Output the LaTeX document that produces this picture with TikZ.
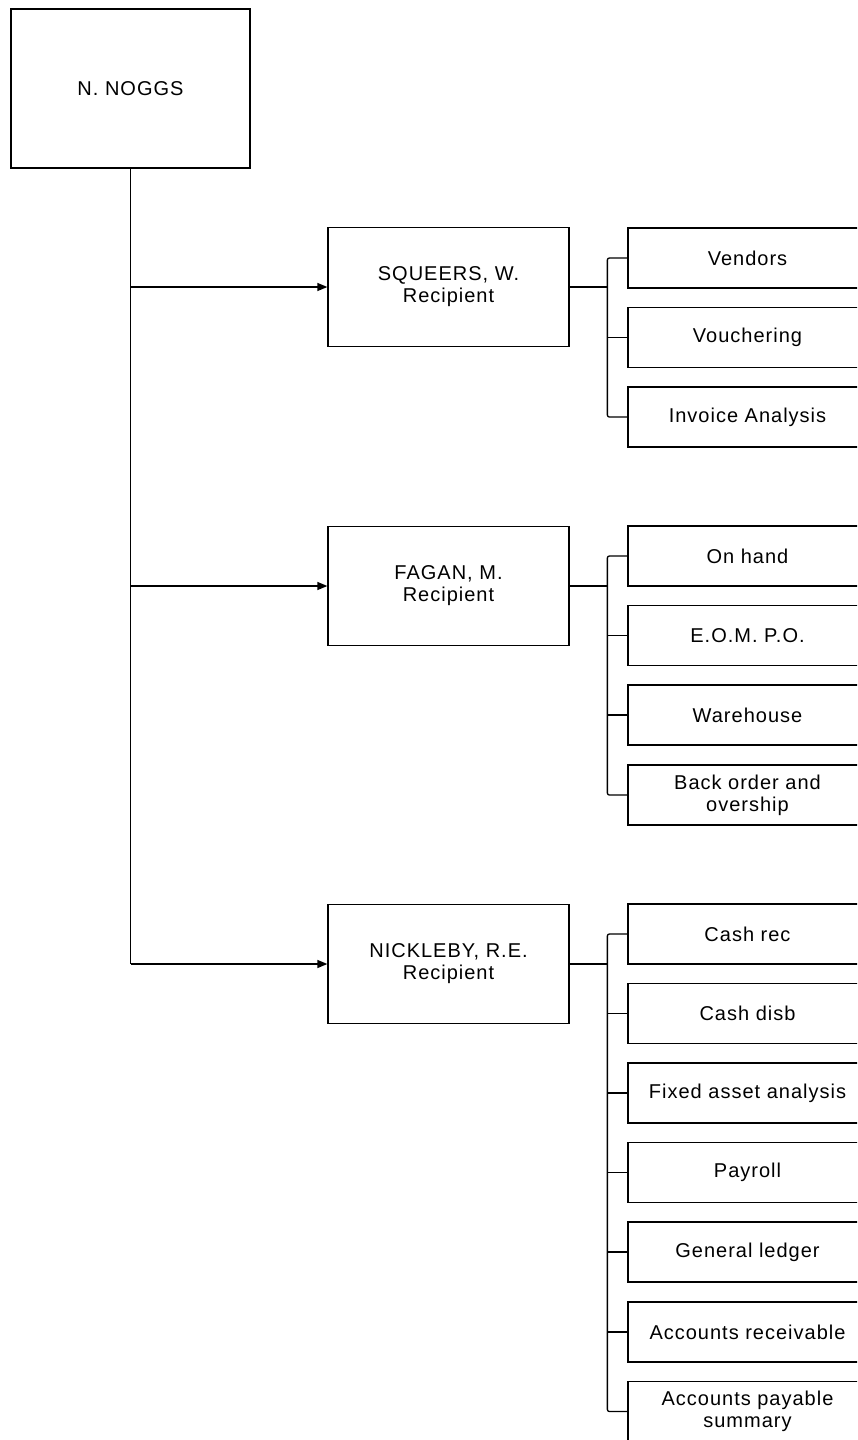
\documentclass[tikz,border=0pt]{standalone}
\usepackage{fontspec}
\setmainfont{Liberation Sans}[LetterSpace=5]
\usetikzlibrary{arrows.meta}
\begin{document}
\begin{tikzpicture}[x=1pt,y=-1pt,
  box/.style={draw,line width=1.3pt,rectangle,inner sep=0pt,align=center,
    font=\fontsize{20}{22}\selectfont},
  topbox/.style={box,minimum width=239pt,minimum height=159pt},
  mgrbox/.style={box,minimum width=241pt,minimum height=119pt},
  leafbox/.style={box,minimum width=239pt,minimum height=60pt},
  link/.style={line width=1.3pt},
  arr/.style={link,-{Triangle[length=10pt,width=8pt]}},
  brk/.style={link,rounded corners=2pt}]
\useasboundingbox (0,0) rectangle (857,1440);
\clip (0,0) rectangle (857,1440);
\fill[white] (0,0) rectangle (857,1440);
% top
\node[topbox] (noggs) at (130.5,88.5) {N. NOGGS};
% managers
\node[mgrbox] (sq) at (448.5,287) {SQUEERS, W.\\Recipient};
\node[mgrbox] (fa) at (448.5,586) {FAGAN, M.\\Recipient};
\node[mgrbox] (ni) at (448.5,964) {NICKLEBY, R.E.\\Recipient};
% leaves squeers
\node[leafbox] (s1) at (747.5,258) {Vendors};
\node[leafbox] (s2) at (747.5,337.5) {Vouchering};
\node[leafbox] (s3) at (747.5,417) {Invoice Analysis};
% leaves fagan
\node[leafbox] (f1) at (747.5,556) {On hand};
\node[leafbox] (f2) at (747.5,635.5) {E.O.M. P.O.};
\node[leafbox] (f3) at (747.5,715) {Warehouse};
\node[leafbox] (f4) at (747.5,795) {Back order and\\overship};
% leaves nickleby
\node[leafbox] (n1) at (747.5,934) {Cash rec};
\node[leafbox] (n2) at (747.5,1013.5) {Cash disb};
\node[leafbox] (n3) at (747.5,1093) {Fixed asset analysis};
\node[leafbox] (n4) at (747.5,1172.5) {Payroll};
\node[leafbox] (n5) at (747.5,1252) {General ledger};
\node[leafbox] (n6) at (747.5,1332) {Accounts receivable};
\node[leafbox] (n7) at (747.5,1411.5) {Accounts payable\\summary};
% trunk
\draw[link] (noggs.south) -- (noggs.south |- ni.west);
\draw[arr] (noggs.south |- sq.west) -- (sq.west);
\draw[arr] (noggs.south |- fa.west) -- (fa.west);
\draw[arr] (noggs.south |- ni.west) -- (ni.west);
% squeers bracket
\draw[link] (sq.east) -- ([xshift=-20pt]sq.east -| s1.west);
\draw[brk] (s1.west) -- ++(-20,0) |- (s3.west);
\draw[link] (s2.west) -- ++(-20,0);
% fagan bracket
\draw[link] (fa.east) -- ([xshift=-20pt]fa.east -| f1.west);
\draw[brk] (f1.west) -- ++(-20,0) |- (f4.west);
\draw[link] (f2.west) -- ++(-20,0);
\draw[link] (f3.west) -- ++(-20,0);
% nickleby bracket
\draw[link] (ni.east) -- ([xshift=-20pt]ni.east -| n1.west);
\draw[brk] (n1.west) -- ++(-20,0) |- (n7.west);
\draw[link] (n2.west) -- ++(-20,0);
\draw[link] (n3.west) -- ++(-20,0);
\draw[link] (n4.west) -- ++(-20,0);
\draw[link] (n5.west) -- ++(-20,0);
\draw[link] (n6.west) -- ++(-20,0);
\end{tikzpicture}
\end{document}
